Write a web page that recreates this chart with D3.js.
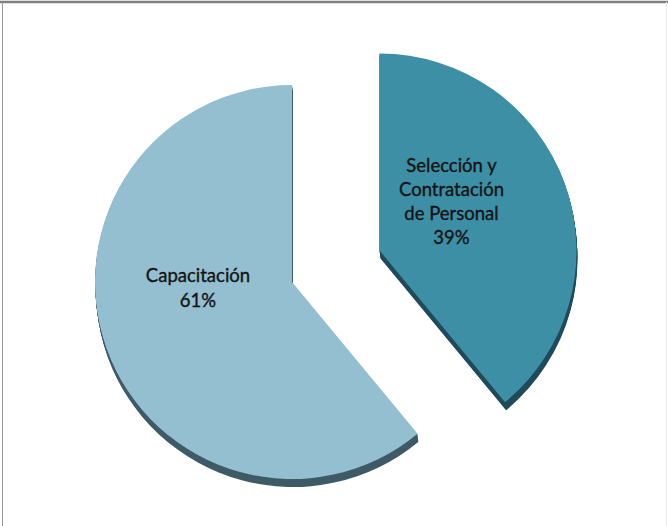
<!DOCTYPE html>
<html>
<head>
<meta charset="utf-8">
<script src="https://cdn.jsdelivr.net/npm/d3@7"></script>
<style>
  body { margin: 0; background: #fff; }
  svg { display: block; }
</style>
</head>
<body>
<div id="chart"></div>
<script>
// data
let categories = ['Selección y Contratación de Personal', 'Capacitación']
let values = [39, 61]
let labelLines = [['Selección y', 'Contratación', 'de Personal', '39%'], ['Capacitación', '61%']]

let width = 668
let height = 526
let radius = 197
let cx = 292
let cy = 282
let explode = [93, 0]
let depth = {x: 1, y: 8}

let topColor = ['#3d8fa6', '#93bfd0']
let sideColor = ['#1e4a59', '#3d5a66']

let svg = d3.select('#chart')
  .append('svg')
  .attr('width', width)
  .attr('height', height)

// frame
svg.append('line').attr('x1', 0).attr('x2', width).attr('y1', 2).attr('y2', 2)
  .attr('stroke', '#808080').attr('stroke-width', 2.5)
svg.append('line').attr('x1', 2.5).attr('x2', 2.5).attr('y1', 2).attr('y2', height)
  .attr('stroke', '#9a9a9a').attr('stroke-width', 1)
svg.append('line').attr('x1', 666.5).attr('x2', 666.5).attr('y1', 2).attr('y2', height)
  .attr('stroke', '#ececec').attr('stroke-width', 1)

let pie = d3.pie().sort(null).value(function(d) { return d })
let arcs = pie(values)
let arc = d3.arc().innerRadius(0).outerRadius(radius)

function offset(d, i) {
  let mid = (d.startAngle + d.endAngle) / 2
  return [Math.sin(mid) * explode[i], -Math.cos(mid) * explode[i]]
}

let g = svg.append('g').attr('transform', 'translate(' + cx + ',' + cy + ')')

// extrusion (side) first
arcs.forEach(function(d, i) {
  let o = offset(d, i)
  for (let k = 1; k <= 8; k++) {
    g.append('path')
      .attr('d', arc(d))
      .attr('transform', 'translate(' + (o[0] + depth.x * k / 8) + ',' + (o[1] + depth.y * k / 8) + ')')
      .attr('fill', sideColor[i])
  }
})

// top faces
arcs.forEach(function(d, i) {
  let o = offset(d, i)
  g.append('path')
    .attr('d', arc(d))
    .attr('transform', 'translate(' + o[0] + ',' + o[1] + ')')
    .attr('fill', topColor[i])
})

// labels
let labelAt = [[72, -49], [-94, 6]]
let lineH = [24, 25]
arcs.forEach(function(d, i) {
  let o = offset(d, i)
  let lines = labelLines[i]
  let t = g.append('text')
    .attr('text-anchor', 'middle')
    .attr('font-family', 'Lato, "Open Sans", sans-serif')
    .attr('font-size', 18.5)
    .attr('fill', '#141414')
    .attr('stroke', '#141414')
    .attr('stroke-width', 0.35)
  lines.forEach(function(s, j) {
    t.append('tspan')
      .attr('x', o[0] + labelAt[i][0])
      .attr('y', o[1] + labelAt[i][1] + (j - (lines.length - 1) / 2) * lineH[i] + 6.5)
      .text(s)
  })
})
</script>
</body>
</html>
